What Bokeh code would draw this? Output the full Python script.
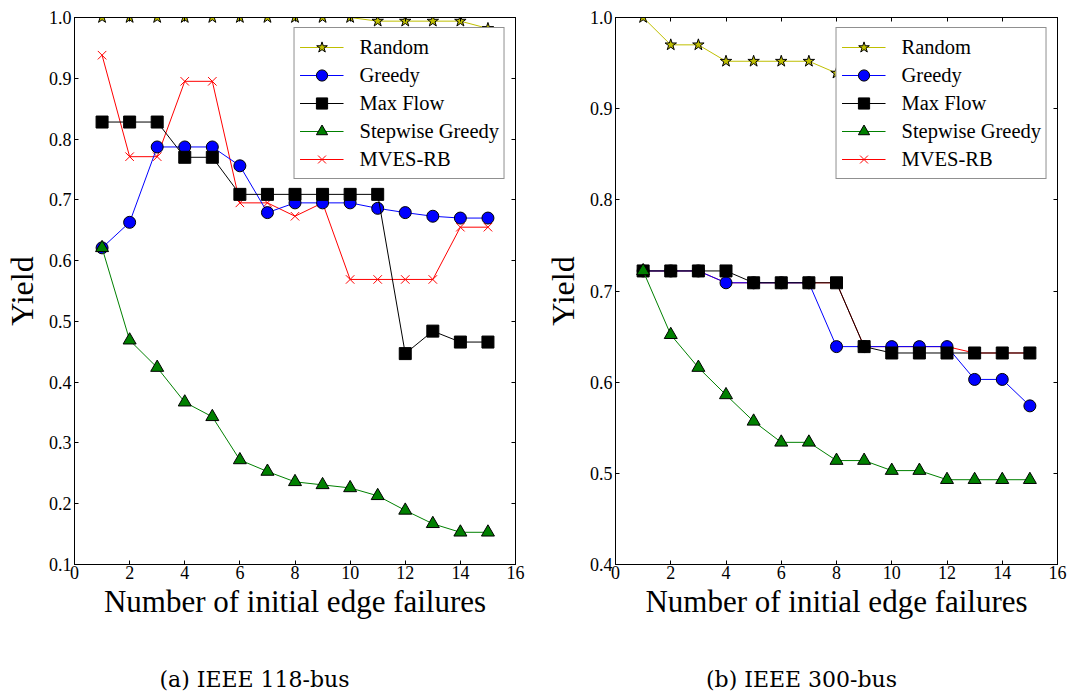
from bokeh.plotting import figure
from bokeh.layouts import row, column
from bokeh.models import (Range1d, LinearAxis, FixedTicker, PrintfTickFormatter,
                          Legend, LegendItem, Label)
from bokeh.embed import file_html
from bokeh.resources import INLINE

# x: number of initial edge failures
failures = [1, 2, 3, 4, 5, 6, 7, 8, 9, 10, 11, 12, 13, 14, 15]

# IEEE 118-bus yields
random_118 = [1.0, 1.0, 1.0, 1.0, 1.0, 1.0, 1.0, 1.0, 1.0, 1.0, 0.994, 0.994, 0.994, 0.994, 0.982]
greedy_118 = [0.621, 0.663, 0.787, 0.787, 0.787, 0.756, 0.679, 0.695, 0.695, 0.695, 0.686, 0.679, 0.673, 0.670, 0.670]
maxflow_118 = [0.828, 0.828, 0.828, 0.770, 0.770, 0.709, 0.709, 0.709, 0.709, 0.709, 0.709, 0.447, 0.484, 0.466, 0.466]
stepwise_118 = [0.621, 0.469, 0.424, 0.367, 0.343, 0.272, 0.253, 0.236, 0.231, 0.226, 0.213, 0.189, 0.167, 0.153, 0.153]
mves_118 = [0.938, 0.771, 0.771, 0.895, 0.895, 0.695, 0.695, 0.673, 0.695, 0.569, 0.569, 0.569, 0.569, 0.655, 0.655]

# IEEE 300-bus yields (Random beyond 8 failures sits under the legend)
random_300_x = [1, 2, 3, 4, 5, 6, 7, 8]
random_300 = [1.0, 0.970, 0.970, 0.952, 0.952, 0.952, 0.952, 0.939]
greedy_300 = [0.722, 0.722, 0.722, 0.709, 0.709, 0.709, 0.709, 0.639, 0.639, 0.639, 0.639, 0.639, 0.603, 0.603, 0.574]
maxflow_300 = [0.722, 0.722, 0.722, 0.722, 0.709, 0.709, 0.709, 0.709, 0.639, 0.632, 0.632, 0.632, 0.632, 0.632, 0.632]
stepwise_300 = [0.722, 0.652, 0.616, 0.586, 0.557, 0.534, 0.534, 0.514, 0.514, 0.503, 0.503, 0.493, 0.493, 0.493, 0.493]
mves_300 = [0.722, 0.722, 0.722, 0.709, 0.709, 0.709, 0.709, 0.709, 0.639, 0.639, 0.639, 0.639, 0.632, 0.632, 0.632]

x_ticks = [0, 2, 4, 6, 8, 10, 12, 14, 16]
y_ticks_118 = [0.1, 0.2, 0.3, 0.4, 0.5, 0.6, 0.7, 0.8, 0.9, 1.0]
y_ticks_300 = [0.4, 0.5, 0.6, 0.7, 0.8, 0.9, 1.0]

SERIF = "Liberation Serif"
CAPTION_FONT = "DejaVu Serif"

# marker, colour, marker size
STYLES = {
    "Random": ("star", "#bfbf00", 12),
    "Greedy": ("circle", "#0000ff", 12),
    "Max Flow": ("square", "#000000", 12),
    "Stepwise Greedy": ("triangle", "#008000", 13),
    "MVES-RB": ("x", "#ff0000", 12),
}
LEGEND_ORDER = ["Random", "Greedy", "Max Flow", "Stepwise Greedy", "MVES-RB"]
DRAW_ORDER = ["MVES-RB", "Random", "Greedy", "Max Flow", "Stepwise Greedy"]


def style_axis(ax, ticks, show_labels):
    ax.ticker = FixedTicker(ticks=ticks)
    ax.axis_line_color = "black"
    ax.axis_line_width = 1
    ax.major_tick_in = 4
    ax.major_tick_out = 0
    ax.major_tick_line_color = "black"
    ax.minor_tick_line_color = None
    if show_labels:
        ax.major_label_text_font = SERIF
        ax.major_label_text_font_size = "18px"
        ax.major_label_text_color = "black"
    else:
        ax.major_label_text_font_size = "0px"
        ax.major_label_text_color = None
        ax.major_label_standoff = 0


def make_panel(series, y_min, y_ticks, left_border, frame_w, right_border):
    p = figure(frame_width=frame_w, frame_height=547,
               min_border_left=left_border, min_border_right=right_border,
               min_border_top=17, min_border_bottom=80,
               x_range=Range1d(0, 16), y_range=Range1d(y_min, 1.0),
               output_backend="svg", toolbar_location=None,
               background_fill_color="white", border_fill_color="white")
    p.grid.visible = False
    p.outline_line_color = "black"
    p.outline_line_width = 1

    xa = p.xaxis[0]
    style_axis(xa, x_ticks, True)
    xa.formatter = PrintfTickFormatter(format="%d")
    xa.major_label_standoff = 1
    xa.axis_label = "Number of initial edge failures"
    xa.axis_label_text_font = SERIF
    xa.axis_label_text_font_size = "31px"
    xa.axis_label_text_font_style = "normal"
    xa.axis_label_text_color = "black"
    xa.axis_label_standoff = 2

    ya = p.yaxis[0]
    style_axis(ya, y_ticks, True)
    ya.formatter = PrintfTickFormatter(format="%.1f")
    ya.major_label_standoff = 3
    ya.axis_label = "Yield"
    ya.axis_label_text_font = SERIF
    ya.axis_label_text_font_size = "32px"
    ya.axis_label_text_font_style = "normal"
    ya.axis_label_text_color = "black"
    ya.axis_label_standoff = 6

    top = LinearAxis()
    style_axis(top, x_ticks, False)
    p.add_layout(top, "above")
    right = LinearAxis()
    style_axis(right, y_ticks, False)
    p.add_layout(right, "right")

    renderers = {}
    for name in DRAW_ORDER:
        xs, ys = series[name]
        marker, color, size = STYLES[name]
        ln = p.line(xs, ys, line_color=color, line_width=1)
        if marker == "x":
            pts = p.scatter(xs, ys, marker="x", size=size, line_color=color,
                            line_width=1)
        else:
            pts = p.scatter(xs, ys, marker=marker, size=size, fill_color=color,
                            line_color="black", line_width=1)
        renderers[name] = [ln, pts]

    legend = Legend(items=[LegendItem(label=n, renderers=renderers[n]) for n in LEGEND_ORDER],
                    location="top_right", margin=10)
    legend.border_line_color = "#222222"
    legend.border_line_width = 1
    legend.background_fill_color = "white"
    legend.background_fill_alpha = 1.0
    legend.label_text_font = SERIF
    legend.label_text_font_size = "20.5px"
    legend.label_text_color = "black"
    legend.glyph_width = 44
    legend.glyph_height = 28
    legend.label_height = 28
    legend.spacing = 0
    legend.padding = 5
    legend.label_standoff = 16
    p.add_layout(legend)
    return p


def make_caption(text, width, center_x):
    # a thin strip under each panel that carries its sub-figure caption
    c = figure(width=width, height=50, min_border=0,
               x_axis_type=None, y_axis_type=None,
               x_range=Range1d(0, width), y_range=Range1d(0, 50),
               output_backend="svg", toolbar_location=None,
               background_fill_color="white", border_fill_color="white")
    c.grid.visible = False
    c.outline_line_color = None
    c.add_layout(Label(x=center_x, y=15, x_units="screen", y_units="screen",
                       text=text, text_font=CAPTION_FONT, text_font_size="22px",
                       text_color="black", text_align="center",
                       text_baseline="middle"))
    return c


series_118 = {
    "Random": (failures, random_118),
    "Greedy": (failures, greedy_118),
    "Max Flow": (failures, maxflow_118),
    "Stepwise Greedy": (failures, stepwise_118),
    "MVES-RB": (failures, mves_118),
}
series_300 = {
    "Random": (random_300_x, random_300),
    "Greedy": (failures, greedy_300),
    "Max Flow": (failures, maxflow_300),
    "Stepwise Greedy": (failures, stepwise_300),
    "MVES-RB": (failures, mves_300),
}

p1 = make_panel(series_118, 0.1, y_ticks_118, 73, 441, 26)
p2 = make_panel(series_300, 0.4, y_ticks_300, 74, 442, 16)
c1 = make_caption("(a) IEEE 118-bus", 540, 180)
c2 = make_caption("(b) IEEE 300-bus", 532, 186)

layout = row(column(p1, c1), column(p2, c2))
open("out.html", "w").write(file_html(layout, INLINE))
